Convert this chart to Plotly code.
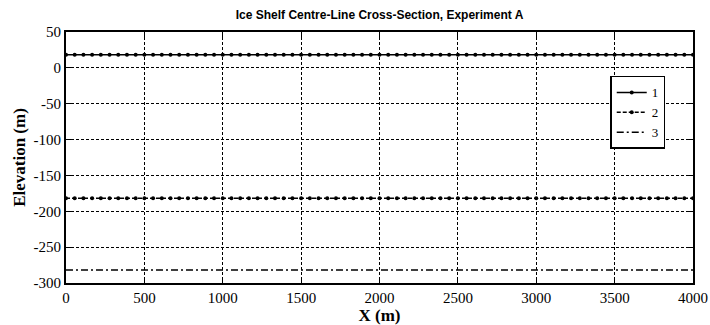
import plotly.graph_objects as go

x_vals = [i * 4000 / 72 for i in range(73)]
surface_elev = 18.3
base_elev = -181.7
bed_elev = -282.0
series_names = ["1", "2", "3"]
x_ticks = [0, 500, 1000, 1500, 2000, 2500, 3000, 3500, 4000]
y_ticks = [50, 0, -50, -100, -150, -200, -250, -300]

SERIF = "Times New Roman, Liberation Serif, serif"

fig = go.Figure()
fig.add_trace(go.Scatter(x=x_vals, y=[surface_elev] * len(x_vals), name=series_names[0],
                         mode="lines+markers", line=dict(color="black", width=1.5, dash="solid"),
                         marker=dict(color="black", size=4, symbol="circle")))
fig.add_trace(go.Scatter(x=x_vals, y=[base_elev] * len(x_vals), name=series_names[1],
                         mode="lines+markers", line=dict(color="black", width=1.5, dash="4px,2px"),
                         marker=dict(color="black", size=4, symbol="circle")))
fig.add_trace(go.Scatter(x=x_vals, y=[bed_elev] * len(x_vals), name=series_names[2],
                         mode="lines", line=dict(color="black", width=1.5, dash="7px,3px,2px,3px")))

axis_common = dict(showline=True, linecolor="black", linewidth=2, mirror="ticks",
                   ticks="inside", ticklen=5, tickcolor="black", tickwidth=1,
                   showgrid=True, gridcolor="black", gridwidth=1, griddash="3px,2px",
                   zeroline=False, automargin=False,
                   tickfont=dict(family=SERIF, size=15, color="black"))

fig.update_xaxes(range=[0, 4000], tickvals=x_ticks, ticktext=[str(v) for v in x_ticks],
                 title=dict(text="<b>X (m)</b>", font=dict(family=SERIF, size=17, color="black"), standoff=0),
                 **axis_common)
fig.update_yaxes(range=[-300, 50], tickvals=y_ticks, ticktext=[str(v) for v in y_ticks],
                 title=dict(text="<b>Elevation (m)</b>", font=dict(family=SERIF, size=17, color="black"), standoff=4),
                 **axis_common)

fig.update_layout(
    width=710, height=325,
    margin=dict(l=66, r=17, t=32, b=42, autoexpand=False),
    paper_bgcolor="white", plot_bgcolor="white",
    font=dict(family=SERIF, color="black"),
    title=dict(text="<b>Ice Shelf Centre-Line Cross-Section, Experiment A</b>",
               font=dict(family="Liberation Sans", size=12, color="black"),
               x=(66 + 627 / 2) / 710, xanchor="center", y=1 - 15 / 325, yanchor="middle"),
    legend=dict(x=0.868, y=0.825, xanchor="left", yanchor="top",
                bgcolor="white", bordercolor="black", borderwidth=1.5,
                font=dict(family=SERIF, size=13, color="black"),
                itemwidth=30, tracegroupgap=0),
    showlegend=True,
)

fig.write_html("out.html")
